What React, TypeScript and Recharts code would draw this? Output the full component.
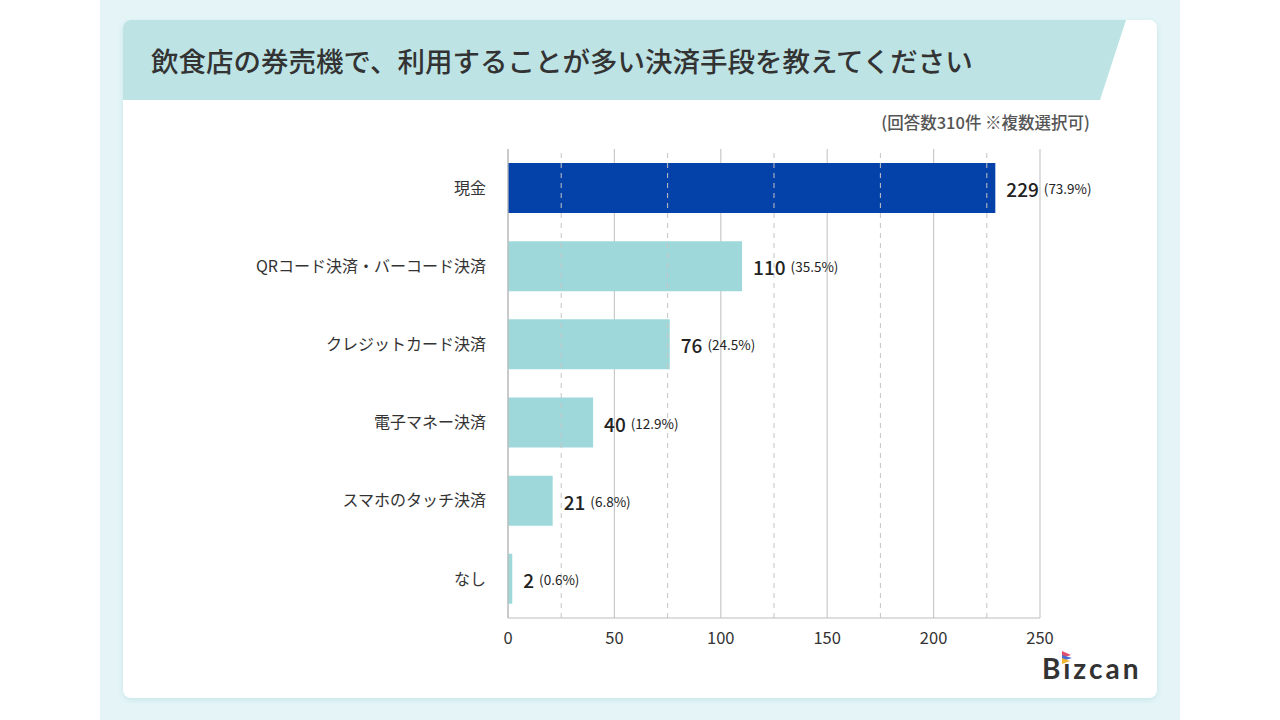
import {
  BarChart,
  Bar,
  XAxis,
  YAxis,
  CartesianGrid,
  ReferenceLine,
  LabelList,
  Cell,
} from "recharts";

const categories = [
  "現金",
  "QRコード決済・バーコード決済",
  "クレジットカード決済",
  "電子マネー決済",
  "スマホのタッチ決済",
  "なし",
];
const counts = [229, 110, 76, 40, 21, 2];
const percents = ["73.9%", "35.5%", "24.5%", "12.9%", "6.8%", "0.6%"];
const xTicks = [0, 50, 100, 150, 200, 250];
const dashedTicks = [25, 75, 125, 175, 225];

const TITLE = "飲食店の券売機で、利用することが多い決済手段を教えてください";
const NOTE = "(回答数310件 ※複数選択可)";

const JP_FONT = '"Noto Sans CJK JP", "Noto Sans", sans-serif';
const HIGHLIGHT = "#0441a9";
const BAR = "#9fd8db";

const data = categories.map((name, i) => ({
  name,
  value: counts[i],
  pct: percents[i],
}));

function ValueLabel(props: any) {
  const { x, y, width, height, index } = props;
  const d = data[index];
  return (
    <text
      x={x + width + 11}
      y={y + height / 2}
      dominantBaseline="central"
      fill="#222"
      fontFamily={JP_FONT}
    >
      <tspan fontSize={19} fontWeight={500}>
        {d.value}
      </tspan>
      <tspan fontSize={13.5} dx={5}>
        ({d.pct})
      </tspan>
    </text>
  );
}

export default function App() {
  return (
    <div
      style={{
        position: "absolute",
        left: 0,
        top: 0,
        width: 1280,
        height: 720,
        background: "#ffffff",
        overflow: "hidden",
      }}
    >
      {/* backdrop strip, card and title banner */}
      <svg
        width={1280}
        height={720}
        style={{ position: "absolute", left: 0, top: 0 }}
      >
        <defs>
          <filter id="cardShadow" x="-5%" y="-5%" width="110%" height="110%">
            <feDropShadow dx="0" dy="2" stdDeviation="3" floodColor="#8fc7cc" floodOpacity="0.35" />
          </filter>
          <clipPath id="cardClip">
            <rect x={123} y={20} width={1034} height={678} rx={8} />
          </clipPath>
        </defs>
        <rect x={100} y={0} width={1080} height={720} fill="#e5f5f7" />
        <rect
          x={123}
          y={20}
          width={1034}
          height={678}
          rx={8}
          fill="#ffffff"
          filter="url(#cardShadow)"
        />
        <polygon
          points="123,20 1126,20 1100,100 123,100"
          fill="#bde3e5"
          clipPath="url(#cardClip)"
        />
        <text
          x={151}
          y={60}
          dominantBaseline="central"
          fontFamily={JP_FONT}
          fontSize={27.5}
          fontWeight={500}
          fill="#333"
        >
          {TITLE}
        </text>
        <text
          x={1090}
          y={122}
          textAnchor="end"
          dominantBaseline="central"
          fontFamily={JP_FONT}
          fontSize={16.5}
          fontWeight={500}
          fill="#555"
        >
          {NOTE}
        </text>

        {/* logo */}
        <g>
          <text
            x={1042}
            y={679}
            fontFamily="Lato, 'Open Sans', sans-serif"
            fontSize={28}
            fontWeight={700}
            letterSpacing={3}
            fill="#333"
          >
            Bızcan
          </text>
          <polygon points="1062,651 1071,655 1062,658" fill="#e0506a" />
          <polygon points="1062,655 1072,658 1062,661" fill="#4a6fd1" />
          <polygon points="1062,658 1070,661 1062,664" fill="#f2b632" />
        </g>
      </svg>

      <div style={{ position: "absolute", left: 0, top: 0 }}>
        <BarChart
          width={1280}
          height={720}
          data={data}
          layout="vertical"
          margin={{ top: 149, right: 240, bottom: 72, left: 0 }}
          barSize={50}
        >
          <CartesianGrid
            horizontal={false}
            stroke="#c9c9c9"
            strokeWidth={1.2}
          />
          {dashedTicks.map((t) => (
            <ReferenceLine
              key={t}
              x={t}
              stroke="#c4c4c4"
              strokeDasharray="5 5"
              ifOverflow="visible"
            />
          ))}
          <XAxis
            type="number"
            domain={[0, 250]}
            ticks={xTicks}
            height={30}
            axisLine={{ stroke: "#bdbdbd", strokeWidth: 1.2 }}
            tickLine={false}
            tickMargin={8}
            tick={{ fontSize: 16.5, fill: "#333", fontFamily: JP_FONT }}
          />
          <YAxis
            type="category"
            dataKey="name"
            width={508}
            axisLine={{ stroke: "#bdbdbd", strokeWidth: 1.2 }}
            tickLine={false}
            tickSize={0}
            tickMargin={22}
            tick={{ fontSize: 16, fill: "#333", fontFamily: JP_FONT }}
          />
          <Bar dataKey="value" isAnimationActive={false}>
            {data.map((d, i) => (
              <Cell key={d.name} fill={i === 0 ? HIGHLIGHT : BAR} />
            ))}
            <LabelList dataKey="value" content={<ValueLabel />} />
          </Bar>
        </BarChart>
      </div>
    </div>
  );
}
